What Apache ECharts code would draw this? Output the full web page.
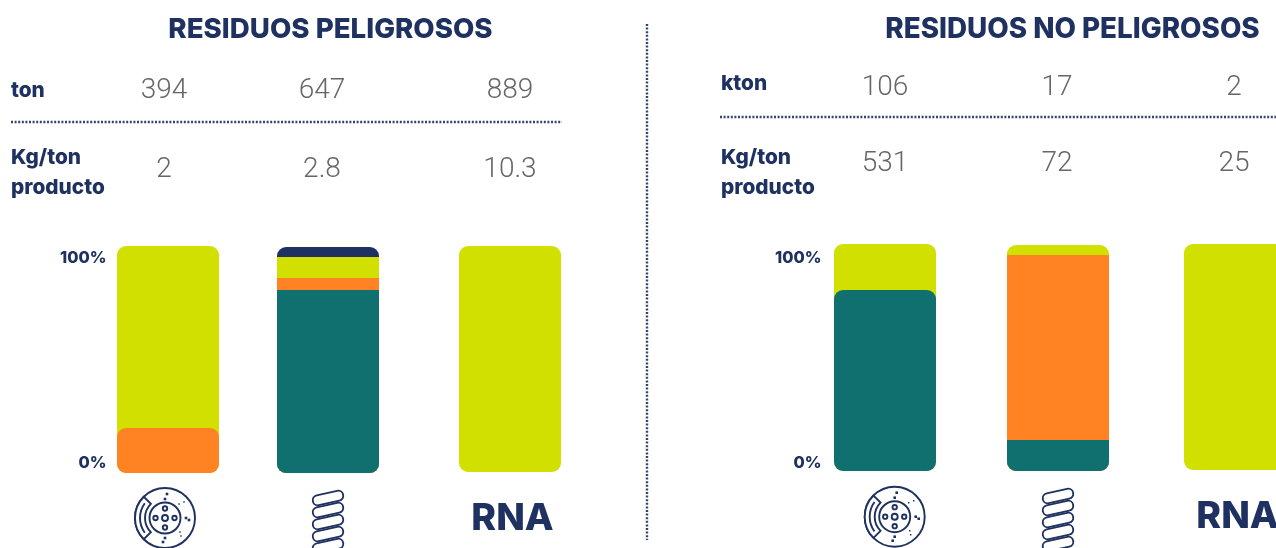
<!DOCTYPE html>
<html><head><meta charset="utf-8">
<style>html,body{margin:0;padding:0;background:#fff;overflow:hidden}#c{width:1276px;height:548px}</style>
<script src="https://cdn.jsdelivr.net/npm/echarts@6/dist/echarts.min.js"></script></head>
<body><div id="c"></div>
<script>
// DATA
const categories = ['Frenos', 'Resortes', 'RNA'];
const segmentNames = ['Verde oscuro', 'Naranja', 'Lima', 'Azul'];
const peligrososShares = [ [0, 19.8, 80.2, 0], [81, 5.3, 9.3, 4.4], [0, 0, 100, 0] ];
const noPeligrososShares = [ [79.7, 0, 20.3, 0], [13.7, 81.9, 4.4, 0], [0, 0, 100, 0] ];
const peligrososTon = ['394', '647', '889'];
const peligrososKg = ['2', '2.8', '10.3'];
const noPeligrososKton = ['106', '17', '2'];
const noPeligrososKg = ['531', '72', '25'];
const yTicks = [0, 100];

// STYLE / LAYOUT
const NAVY = '#1f3160', GREY = '#666666';
const segColors = ['#10706f', '#ff8323', '#d2e000', '#1f3160'];
const TF = 'Inter, Lato, sans-serif', NF = 'Roboto, Lato, sans-serif';
const barBoxes = [
  {x:117,t:246,b:473},{x:277,t:247,b:473},{x:459,t:246,b:472},
  {x:834,t:244,b:471},{x:1007,t:245,b:471},{x:1184,t:244,b:470}
];
const BW = 102, R = 9;
const allShares = peligrososShares.concat(noPeligrososShares);

const grid=[], xAxis=[], yAxis=[], series=[];
allShares.forEach((vals,i)=>{
  const box=barBoxes[i];
  grid.push({left:box.x,width:BW,top:box.t,height:box.b-box.t,outerBoundsMode:'none'});
  const cat=categories[i%3];
  xAxis.push({gridIndex:i,type:'category',data:[cat],axisLine:{show:false},axisTick:{show:false},
    axisLabel:{show:cat==='RNA',margin:27,color:NAVY,fontFamily:TF,fontWeight:800,fontSize:37.5,
      padding:[0,0,0,5],overflow:'none',lineHeight:40}});
  yAxis.push({gridIndex:i,type:'value',min:0,max:100,show:false});
  // cumulative tops; tallest first so lower segments paint over
  let cum=0; const tops=vals.map(v=>(cum+=v));
  const present=vals.map(v=>v>0);
  const lastIdx=present.lastIndexOf(true), firstIdx=present.indexOf(true);
  const nPresent=present.filter(Boolean).length;
  for(let s=3;s>=0;s--){
    if(!present[s]) continue;
    // two-segment bars: lower segment keeps rounded shoulders over the upper one
    const fullRound = nPresent===2 && s===firstIdx;
    const tr = (s===lastIdx||fullRound)?R:0;
    series.push({type:'bar',name:segmentNames[s],xAxisIndex:i,yAxisIndex:i,barWidth:BW,barGap:'-100%',
      silent:true,animation:false,
      data:[Math.min(100,tops[s])],
      itemStyle:{color:segColors[s],borderRadius:[tr,tr,R,R]}});
  }
});
// percent axes, labelled 0% and 100%
[{x:117,m:10.5},{x:834,m:12.5}].forEach(a=>{
  const k=grid.length;
  grid.push({left:a.x,width:BW,top:258,height:205,outerBoundsMode:'none'});
  xAxis.push({gridIndex:k,type:'value',show:false,min:0,max:1});
  yAxis.push({gridIndex:k,type:'value',min:yTicks[0],max:yTicks[1],interval:100,
    axisLine:{show:false},axisTick:{show:false},splitLine:{show:false},
    axisLabel:{margin:a.m,color:NAVY,fontFamily:TF,fontWeight:800,fontSize:16.3,formatter:'{value}%'}});
});

// Header text and icons
const g=[];
const text=(t,x,y,o)=>g.push({type:'text',x,y,silent:true,style:Object.assign({text:t,verticalAlign:'middle',fill:NAVY},o)});
const bold=s=>({fontFamily:TF,fontWeight:800,fontSize:s});
const num={fontFamily:NF,fontWeight:300,fontSize:28,fill:GREY,align:'center'};
text('RESIDUOS PELIGROSOS',330.5,30,Object.assign(bold(27.7),{align:'center'}));
text('RESIDUOS NO PELIGROSOS',1072.5,30,Object.assign(bold(27.8),{align:'center'}));
text('ton',11,90.5,bold(20.8));
text('Kg/ton',11,157.5,bold(20.8)); text('producto',11,187.5,bold(20.8));
text('kton',721,83.5,bold(20.8));
text('Kg/ton',721,157.5,bold(20.8)); text('producto',721,187.5,bold(20.8));
[164,322,510].forEach((x,i)=>{text(peligrososTon[i],x,91,num);text(peligrososKg[i],x,169.5,num);});
[885,1057,1234].forEach((x,i)=>{text(noPeligrososKton[i],x,87.5,num);text(noPeligrososKg[i],x,164,num);});

const dotted=(x1,y1,x2,y2)=>g.push({type:'line',silent:true,shape:{x1,y1,x2,y2},style:{stroke:NAVY,lineWidth:2.4,lineDash:[2,1.6],opacity:0.9}});
dotted(11,122,562,122); dotted(720,117,1276,117); dotted(647,24,647,540);

const line={stroke:NAVY,lineWidth:1.9,fill:'none'};
function disc(cx,cy){
  const c=(r)=>g.push({type:'circle',silent:true,shape:{cx,cy,r},style:line});
  c(30); c(15.5); c(3);
  [[0,-9.5],[0,9.5],[-9.5,0],[9.5,0]].forEach(d=>g.push({type:'circle',silent:true,shape:{cx:cx+d[0],cy:cy+d[1],r:2.2},style:line}));
  g.push({type:'sector',silent:true,shape:{cx,cy,r0:20,r:30,startAngle:Math.PI*0.75,endAngle:Math.PI*1.25},style:{stroke:NAVY,lineWidth:1.9,fill:'#fff'}});
  g.push({type:'arc',silent:true,shape:{cx,cy,r:25,startAngle:Math.PI*0.8,endAngle:Math.PI*1.2},style:line});
  [[2,-24],[0,-19],[-2,24],[0,20],[21,0],[24,2]].forEach(d=>g.push({type:'rect',silent:true,shape:{x:cx+d[0]-1.3,y:cy+d[1]-1.3,width:2.6,height:2.6},style:{fill:NAVY}}));
  [[14,-14],[19,-16],[15,14],[16,18]].forEach(d=>g.push({type:'rect',silent:true,shape:{x:cx+d[0]-0.7,y:cy+d[1]-0.7,width:1.4,height:1.4},style:{fill:NAVY}}));
}
function spring(cx,cy0){
  for(let i=0;i<5;i++){
    g.push({type:'rect',silent:true,x:cx,y:cy0+i*12,rotation:0.22,
      shape:{x:-15.5,y:-5,width:31,height:10,r:5},style:{stroke:NAVY,lineWidth:1.9,fill:'none'}});
  }
}
disc(165,518); disc(894.7,516.7);
spring(328,498); spring(1058,496);

const chart=echarts.init(document.getElementById('c'),null,{renderer:'canvas'});
chart.setOption({animation:false,backgroundColor:'#fff',grid,xAxis,yAxis,series,graphic:{elements:g},tooltip:{show:false}});
</script></body></html>
